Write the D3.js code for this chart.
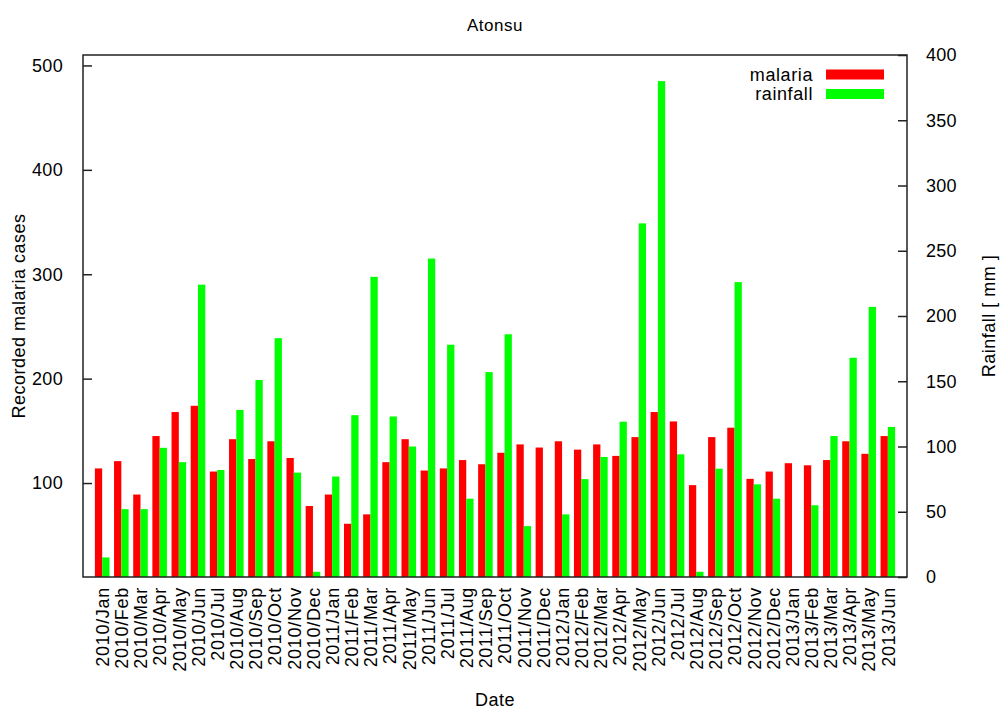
<!DOCTYPE html>
<html>
<head>
<meta charset="utf-8">
<script src="https://cdn.jsdelivr.net/npm/d3@7"></script>
<style>
  html, body { margin: 0; padding: 0; background: #fff; }
  svg { display: block; }
  text { font-family: "Liberation Sans", Arial, sans-serif; fill: #000; }
</style>
</head>
<body>
<svg id="chart" width="1003" height="711"></svg>
<script>
const months = ["2010/Jan","2010/Feb","2010/Mar","2010/Apr","2010/May","2010/Jun","2010/Jul","2010/Aug","2010/Sep","2010/Oct","2010/Nov","2010/Dec",
  "2011/Jan","2011/Feb","2011/Mar","2011/Apr","2011/May","2011/Jun","2011/Jul","2011/Aug","2011/Sep","2011/Oct","2011/Nov","2011/Dec",
  "2012/Jan","2012/Feb","2012/Mar","2012/Apr","2012/May","2012/Jun","2012/Jul","2012/Aug","2012/Sep","2012/Oct","2012/Nov","2012/Dec",
  "2013/Jan","2013/Feb","2013/Mar","2013/Apr","2013/May","2013/Jun"];
const malaria = [114,121,89,145,168,174,111,142,123,140,124,78,
  89,61,70,120,142,112,114,122,118,129,137,134,
  140,132,137,126,144,168,159,98,144,153,104,111,
  119,117,122,140,128,145];
const rainfall = [15,52,52,99,88,224,82,128,151,183,80,4,
  77,124,230,123,100,244,178,60,157,186,39,0,
  48,75,92,119,271,380,94,4,83,226,71,60,
  0,55,108,168,207,115];
const leftTicks = [100,200,300,400,500];
const rightTicks = [0,50,100,150,200,250,300,350,400];
const seriesNames = ["malaria","rainfall"];
const colors = ["#ff0000","#00ff00"];

const svg = d3.select("#chart");
const L = 83, R = 907, T = 55, B = 577;
const FONT = "Liberation Sans, Arial, sans-serif";

const x = d3.scaleLinear().domain([-1, months.length]).range([L, R]);
const yL = d3.scaleLinear().domain([10, 510]).range([B, T]);
const yR = d3.scaleLinear().domain([0, 400]).range([B, T]);
const bw = 0.38;

svg.append("clipPath").attr("id","pc").append("rect")
  .attr("x", L).attr("y", T).attr("width", R-L).attr("height", B-T);

const g = svg.append("g").attr("clip-path","url(#pc)");
g.selectAll("rect.mal").data(malaria).enter().append("rect")
  .attr("class","mal")
  .attr("x", (d,i) => x(i - bw))
  .attr("width", x(bw) - x(0))
  .attr("y", d => yL(d))
  .attr("height", d => B - yL(d))
  .attr("fill", colors[0]);
g.selectAll("rect.rain").data(rainfall).enter().append("rect")
  .attr("class","rain")
  .attr("x", (d,i) => x(i))
  .attr("width", x(bw) - x(0))
  .attr("y", d => yR(d))
  .attr("height", d => B - yR(d))
  .attr("fill", colors[1]);

// frame
svg.append("rect").attr("x", L).attr("y", T).attr("width", R-L).attr("height", B-T)
  .attr("fill","none").attr("stroke","#222").attr("stroke-width",1.5);

// left axis
const axL = d3.axisLeft(yL).tickValues(leftTicks).tickSize(-9).tickPadding(20).tickFormat(d3.format("d"));
const gL = svg.append("g").attr("transform",`translate(${L},0)`).call(axL);
gL.select(".domain").remove();
gL.selectAll(".tick line").attr("stroke","#222").attr("stroke-width",1.5);
gL.selectAll(".tick text").attr("font-size",18).attr("font-family",FONT).attr("letter-spacing","0.3px");

// right axis
const axR = d3.axisRight(yR).tickValues(rightTicks).tickSize(-9).tickPadding(19);
const gR = svg.append("g").attr("transform",`translate(${R},0)`).call(axR);
gR.select(".domain").remove();
gR.selectAll(".tick line").attr("stroke","#222").attr("stroke-width",1.5);
gR.selectAll(".tick text").attr("font-size",18).attr("font-family",FONT).attr("letter-spacing","0.3px");

// bottom category labels
const axB = d3.axisBottom(x).tickValues(d3.range(months.length)).tickSize(0).tickFormat(i => months[i]);
const gB = svg.append("g").attr("transform",`translate(0,${B})`).call(axB);
gB.select(".domain").remove();
gB.selectAll(".tick text")
  .attr("font-size",18).attr("font-family",FONT).attr("letter-spacing","0.7px")
  .attr("transform","rotate(-90)")
  .attr("x",-10).attr("y",0).attr("dy","0.35em")
  .attr("text-anchor","end");

// titles
svg.append("text").attr("x", (L+R)/2).attr("y", 31).attr("text-anchor","middle")
  .attr("font-size",17).attr("letter-spacing","0.5px").text("Atonsu");
svg.append("text").attr("x", (L+R)/2).attr("y", 700).attr("dy","0.35em").attr("text-anchor","middle")
  .attr("font-size",18).attr("letter-spacing","0.5px").text("Date");
svg.append("text").attr("transform",`translate(25,${(T+B)/2}) rotate(-90)`)
  .attr("text-anchor","middle").attr("font-size",18).attr("letter-spacing","0.5px").text("Recorded malaria cases");
svg.append("text").attr("transform",`translate(995,${(T+B)/2}) rotate(-90)`)
  .attr("text-anchor","middle").attr("font-size",18).attr("letter-spacing","0.5px").text("Rainfall [ mm ]");

// legend
const leg = svg.append("g");
seriesNames.forEach((n,i) => {
  const cy = 74.5 + i*19.5;
  leg.append("text").attr("x", 813).attr("y", cy).attr("dy","0.35em")
    .attr("text-anchor","end").attr("font-size",18).attr("letter-spacing","0.6px").text(n);
  leg.append("rect").attr("x", 826).attr("y", cy-5).attr("width", 58).attr("height", 10)
    .attr("fill", colors[i]);
});
</script>
</body>
</html>
